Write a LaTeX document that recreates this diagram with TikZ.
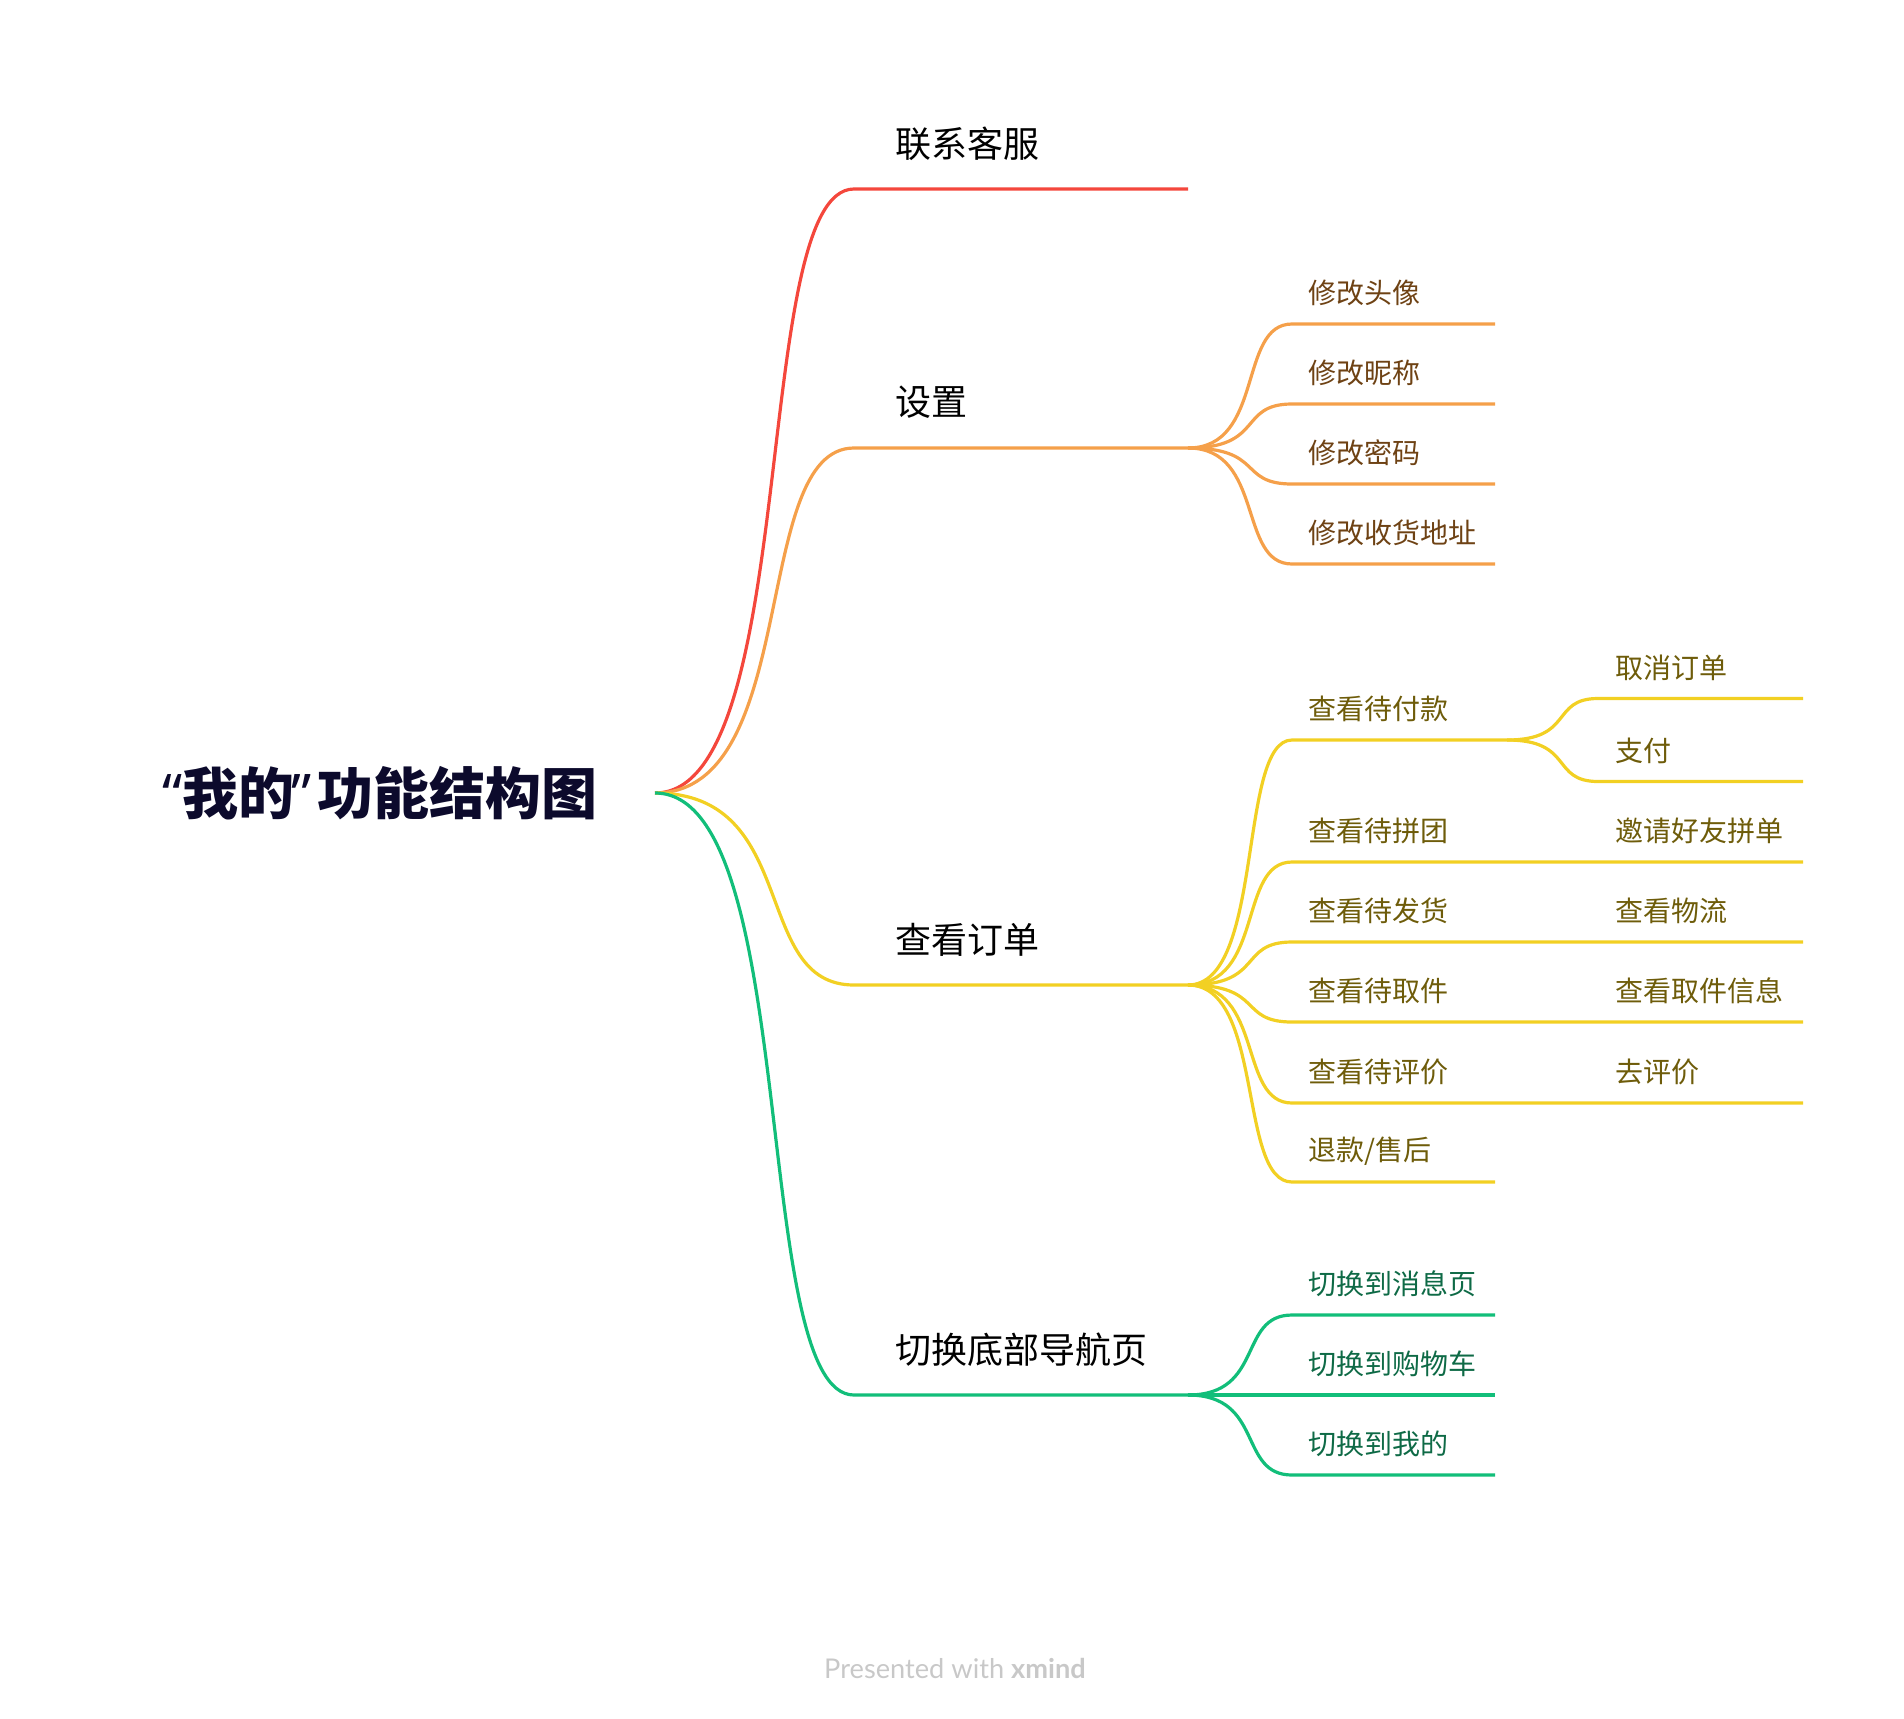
\documentclass[tikz,border=0pt]{standalone}
\usepackage{fontspec}
\newfontfamily\cjk{Noto Sans CJK SC}
\newfontfamily\quotefont{Noto Sans}
\newfontfamily\footfont{Lato}
\usetikzlibrary{calc}
\definecolor{cred}{HTML}{F4473C}
\definecolor{corange}{HTML}{F5A04A}
\definecolor{cyellow}{HTML}{F2D023}
\definecolor{cgreen}{HTML}{12BE7A}
\definecolor{tbrown}{HTML}{6E4214}
\definecolor{tolive}{HTML}{6E5C0A}
\definecolor{tgreen}{HTML}{0E6A46}
\definecolor{ctitle}{HTML}{0C0A2C}
\definecolor{cfoot}{HTML}{C8C8C8}
\begin{document}
\begin{tikzpicture}[x=0.5pt,y=-0.5pt,
  curvy/.style={to path={let \p1=(\tikztostart), \p2=(\tikztotarget) in
     .. controls ({\x1+0.737*(\x2-\x1)},\y1) and ({\x1+0.477*(\x2-\x1)},\y2) .. (\tikztotarget)}},
  br/.style={line width=1.6pt, line join=round},
  maintext/.style={anchor=west, inner sep=0pt, font=\cjk\fontsize{18}{18}\selectfont, text=black},
  subtext/.style={anchor=west, inner sep=0pt, font=\cjk\fontsize{14}{14}\selectfont},
]
\useasboundingbox (0,0) rectangle (1904,1718);

% root
\node[anchor=west, inner sep=0pt, font=\cjk\bfseries\fontsize{28}{29}\selectfont, text=ctitle] (title) at (162,793) {{\quotefont\bfseries “}我的{\quotefont\bfseries\kern-0.05em”\kern0.1em}功能结构图};
\coordinate (root) at (655,793);

% main branches
\coordinate (m1a) at (854,189);  \coordinate (m1b) at (1188,189);
\coordinate (m2a) at (854,448);  \coordinate (m2b) at (1188,448);
\coordinate (m3a) at (854,985);  \coordinate (m3b) at (1188,985);
\coordinate (m4a) at (854,1395); \coordinate (m4b) at (1188,1395);

\node[maintext] (t1) at (895,143.5) {联系客服};
\node[maintext] (t2) at (895,402.5) {设置};
\node[maintext] (t3) at (895,939.5) {查看订单};
\node[maintext] (t4) at (895,1349.5) {切换底部导航页};

\draw[br,cred] (root) to[curvy] (m1a) -- (m1b);
\draw[br,corange] (root) to[curvy] (m2a) -- (m2b);
\draw[br,cyellow] (root) to[curvy] (m3a) -- (m3b);
\draw[br,cgreen] (root) to[curvy] (m4a) -- (m4b);

% settings subtopics
\foreach \i/\y/\t in {1/324/修改头像, 2/404/修改昵称, 3/484/修改密码, 4/564/修改收货地址}{
  \coordinate (s\i a) at (1292,\y);
  \coordinate (s\i b) at (1495,\y);
  \draw[br,corange] (m2b) to[curvy] (s\i a) -- (s\i b);
  \node[subtext, text=tbrown] (st\i) at (1308,\y-31) {\t};
}

% order subtopics
\coordinate (o1a) at (1292,740);  \coordinate (o1b) at (1507,740);
\coordinate (o2a) at (1292,862);  \coordinate (o2b) at (1803,862);
\coordinate (o3a) at (1292,942);  \coordinate (o3b) at (1803,942);
\coordinate (o4a) at (1292,1022); \coordinate (o4b) at (1803,1022);
\coordinate (o5a) at (1292,1103); \coordinate (o5b) at (1803,1103);
\coordinate (o6a) at (1292,1182); \coordinate (o6b) at (1495,1182);
\foreach \i in {1,...,6}{
  \draw[br,cyellow] (m3b) to[curvy] (o\i a) -- (o\i b);
}
\node[subtext, text=tolive] (ot1) at (1308,709)  {查看待付款};
\node[subtext, text=tolive] (ot2) at (1308,831)  {查看待拼团};
\node[subtext, text=tolive] (ot3) at (1308,911)  {查看待发货};
\node[subtext, text=tolive] (ot4) at (1308,991)  {查看待取件};
\node[subtext, text=tolive] (ot5) at (1308,1072) {查看待评价};
\node[subtext, text=tolive] (ot6) at (1308,1151) {退款/售后};

% third level
\coordinate (p1a) at (1598,698.5); \coordinate (p1b) at (1803,698.5);
\coordinate (p2a) at (1598,781.5); \coordinate (p2b) at (1803,781.5);
\draw[br,cyellow] (o1b) to[curvy] (p1a) -- (p1b);
\draw[br,cyellow] (o1b) to[curvy] (p2a) -- (p2b);
\node[subtext, text=tolive] (pt1) at (1615,667.5) {取消订单};
\node[subtext, text=tolive] (pt2) at (1615,750.5) {支付};
\node[subtext, text=tolive] (pt3) at (1615,831)  {邀请好友拼单};
\node[subtext, text=tolive] (pt4) at (1615,911)  {查看物流};
\node[subtext, text=tolive] (pt5) at (1615,991)  {查看取件信息};
\node[subtext, text=tolive] (pt6) at (1615,1072) {去评价};

% navigation subtopics
\foreach \i/\y/\t in {1/1315/切换到消息页, 2/1395/切换到购物车, 3/1475/切换到我的}{
  \coordinate (g\i a) at (1292,\y);
  \coordinate (g\i b) at (1495,\y);
  \draw[br,cgreen] (m4b) to[curvy] (g\i a) -- (g\i b);
  \node[subtext, text=tgreen] (gt\i) at (1308,\y-31) {\t};
}

% footer
\node[inner sep=0pt, font=\footfont\fontsize{13.6}{14}\selectfont, text=cfoot] (foot) at (955,1668) {Presented with \textbf{xmind}};
\end{tikzpicture}
\end{document}
